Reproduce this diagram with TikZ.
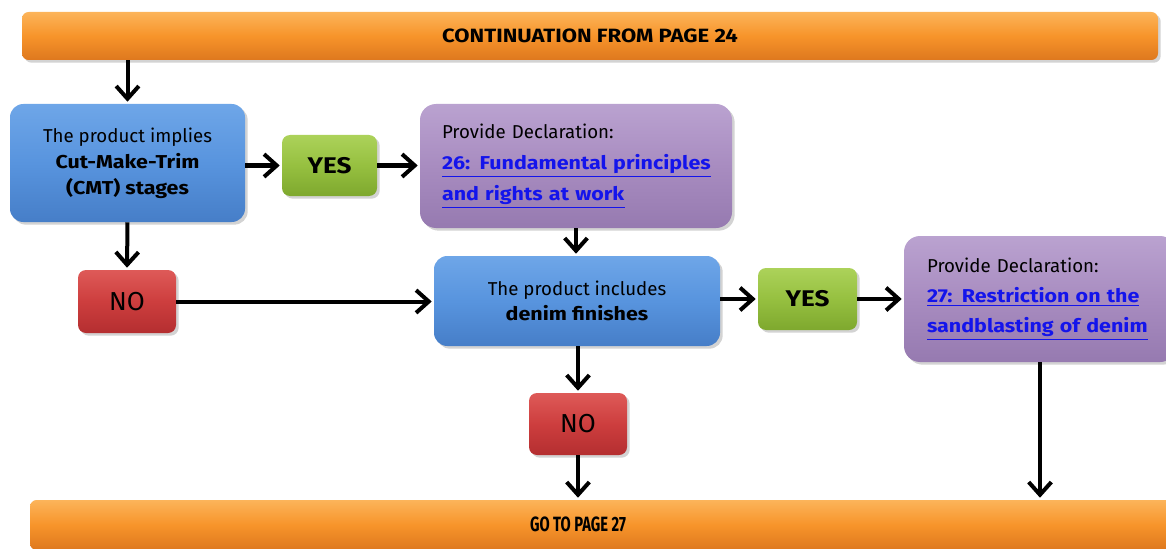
\documentclass[tikz,border=0pt]{standalone}
\usepackage{fontspec}
\usepackage{graphicx}
\setmainfont{Fira Sans}[BoldFeatures={FakeStretch=1.15}]
\usetikzlibrary{arrows.meta,shadows}
\definecolor{orM}{RGB}{247,148,42}
\definecolor{orL}{RGB}{252,180,90}
\definecolor{orD}{RGB}{222,120,30}
\definecolor{blM}{RGB}{88,148,222}
\definecolor{blL}{RGB}{110,166,232}
\definecolor{blD}{RGB}{70,126,200}
\definecolor{grM}{RGB}{150,192,64}
\definecolor{grL}{RGB}{172,210,90}
\definecolor{grD}{RGB}{126,168,46}
\definecolor{rdM}{RGB}{205,62,62}
\definecolor{rdL}{RGB}{222,90,88}
\definecolor{rdD}{RGB}{180,46,48}
\definecolor{puM}{RGB}{168,140,192}
\definecolor{puL}{RGB}{186,162,208}
\definecolor{puD}{RGB}{150,122,176}
\definecolor{lnk}{RGB}{20,20,235}
\newcommand{\lk}[1]{\textcolor{lnk}{\underline{\textbf{#1}}}}
\tikzset{
  basebox/.style={draw=none, drop shadow={opacity=0.35, shadow xshift=2pt, shadow yshift=-2pt}},
  bar/.style={basebox, rounded corners=5pt, top color=orL, bottom color=orD, middle color=orM},
  bluebox/.style={basebox, rounded corners=10pt, top color=blL, bottom color=blD, middle color=blM, align=center},
  greenbox/.style={basebox, rounded corners=6pt, top color=grL, bottom color=grD, middle color=grM, font=\fontsize{17}{20}\selectfont\bfseries},
  redbox/.style={basebox, rounded corners=6pt, top color=rdL, bottom color=rdD, middle color=rdM, font=\fontsize{19.5}{22}\selectfont},
  purplebox/.style={basebox, rounded corners=12pt, top color=puL, bottom color=puD, middle color=puM, align=left, font=\fontsize{14}{23.2}\selectfont},
  arr/.style={line width=3pt, -{Straight Barb[length=9.5pt,width=17pt,line width=3pt]}, shorten >=1.5pt}
}
\begin{document}
\begin{tikzpicture}[x=0.75pt,y=-0.75pt]
\useasboundingbox (0,0) rectangle (1166,549);
\clip (0,0) rectangle (1166,549);
% bars
\node[bar, minimum width=1136*0.75pt, minimum height=48*0.75pt, font=\fontsize{14.4}{16}\selectfont\bfseries] (top) at (590,36) {CONTINUATION FROM PAGE 24};
\node[bar, minimum width=1150*0.75pt, minimum height=50*0.75pt] (bot) at (605,525) {};
\node[font=\fontsize{15.5}{17}\selectfont\bfseries] (botlabel) at (578,524) {\scalebox{0.62}[1]{GO TO PAGE 27}};
% boxes
\node[bluebox, minimum width=235*0.75pt, minimum height=118*0.75pt, font=\fontsize{14}{19.5}\selectfont] (b1) at (127.5,163)
  {The product implies\\\textbf{Cut-Make-Trim}\\\textbf{(CMT) stages}};
\node[greenbox, minimum width=95*0.75pt, minimum height=61*0.75pt] (y1) at (329.5,165.5) {YES};
\node[purplebox, minimum width=312*0.75pt, minimum height=124*0.75pt, text width=268*0.75pt] (p1) at (576,166)
  {Provide Declaration:\\\lk{26: Fundamental principles}\\\lk{and rights at work}};
\node[redbox, minimum width=98*0.75pt, minimum height=63*0.75pt] (n1) at (127,301.5) {NO};
\node[bluebox, minimum width=286*0.75pt, minimum height=90*0.75pt, font=\fontsize{14}{19}\selectfont] (b2) at (577,301)
  {The product includes\\\textbf{denim finishes}};
\node[greenbox, minimum width=99*0.75pt, minimum height=62*0.75pt] (y2) at (807.5,299) {YES};
\node[purplebox, minimum width=272*0.75pt, minimum height=126*0.75pt, text width=226*0.75pt, font=\fontsize{14}{22.5}\selectfont] (p2) at (1040,299)
  {Provide Declaration:\\\lk{27: Restriction on the}\\\lk{sandblasting of denim}};
\node[redbox, minimum width=98*0.75pt, minimum height=62*0.75pt] (n2) at (578,424) {NO};
% connectors
\draw[arr] (top.south -| b1.north) -- (b1.north);
\draw[arr] (b1.east |- y1) -- (y1.west);
\draw[arr] (y1.east) -- (p1.west |- y1);
\draw[arr] (p1.south) -- (p1.south |- b2.north);
\draw[arr] (b1.south) -- (n1.north);
\draw[arr] (n1.east) -- (b2.west |- n1);
\draw[arr] (b2.east |- y2) -- (y2.west);
\draw[arr] (y2.east) -- (p2.west |- y2);
\draw[arr] (b2.south -| n2) -- (n2.north);
\draw[arr] (n2.south) -- (n2.south |- bot.north);
\draw[arr] (p2.south) -- (p2.south |- bot.north);
\end{tikzpicture}
\end{document}
